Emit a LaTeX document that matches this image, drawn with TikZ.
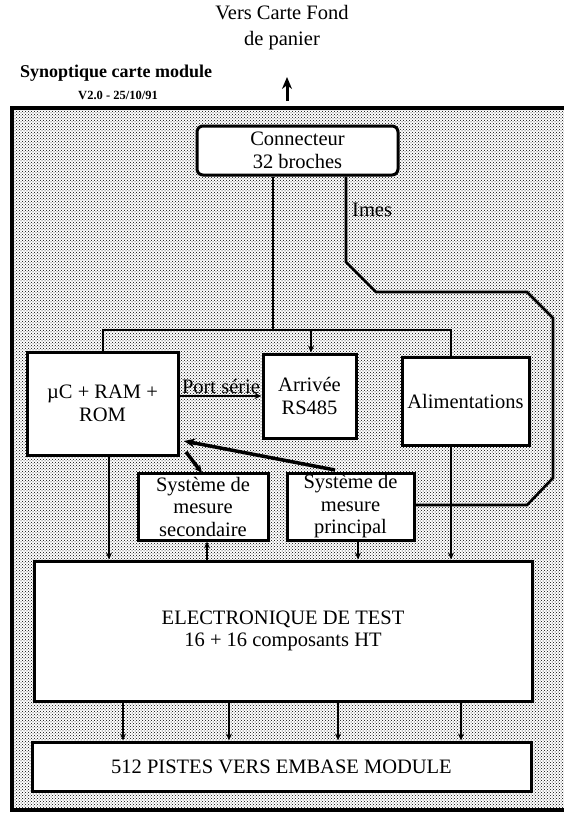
\documentclass[tikz,border=0pt]{standalone}
\usepackage{fontspec}
\setmainfont{Liberation Serif}
\usetikzlibrary{patterns,arrows.meta}
\begin{document}
\begin{tikzpicture}[x=1pt,y=-1pt,
  box/.style={draw,fill=white,line width=3pt,inner sep=0pt,align=center,font=\fontsize{20.5}{22.5}\selectfont},
  conline/.style={line width=2.6pt},
  arr/.style={conline,-{Stealth[length=7pt,width=6pt]}},
  lbl/.style={inner sep=0pt,font=\fontsize{20.5}{22.5}\selectfont}]
\useasboundingbox (0,0) rectangle (564,815);
\fill[white] (0,0) rectangle (564,815);
% background frame
\fill[pattern=crosshatch dots, pattern color=black] (12,108) rectangle (566,810);
\draw[line width=4.5pt] (566,108) -- (12,108) -- (12,810) -- (566,810);

% titles
\node[lbl,align=center,font=\fontsize{20.5}{26}\selectfont] (vers) at (282,28) {Vers Carte Fond\\de panier};
\node[inner sep=0pt,anchor=west,font=\bfseries\fontsize{18}{20}\selectfont] (syn) at (20,73) {Synoptique carte module};
\node[inner sep=0pt,font=\bfseries\fontsize{12.5}{14}\selectfont] (ver) at (118,95) {V2.0 - 25/10/91};
\coordinate (t1) at (287,101);
\coordinate (t2) at (287,77);
\draw[line width=3pt,-{Stealth[length=12pt,width=10pt]}] (t1) -- (t2);

% boxes
\node[box,rounded corners=6pt,minimum width=201pt,minimum height=49pt] (conn) at (297.5,150.5) {Connecteur\\32 broches};
\node[box,minimum width=151pt,minimum height=103pt] (uc) at (102.5,403.5) {µC + RAM +\\ROM};
\node[box,minimum width=93pt,minimum height=84pt] (rs) at (309.5,396) {Arrivée\\RS485};
\node[box,minimum width=127pt,minimum height=88pt] (alim) at (465.5,401) {Alimentations};
\node[box,minimum width=130pt,minimum height=67pt] (sec) at (203,506.5) {Système de\\mesure\\secondaire};
\node[box,minimum width=127pt,minimum height=67pt] (prin) at (350.5,506.5) {Système de\\mesure\\principal};
\node[box,minimum width=498pt,minimum height=140pt] (elec) at (283,631) {ELECTRONIQUE DE TEST\\16 + 16 composants HT};
\node[box,minimum width=499pt,minimum height=49pt] (pistes) at (281.5,766.5) {512 PISTES VERS EMBASE MODULE};

% bus
\coordinate (busL) at (103,330);
\coordinate (busC) at (273,330);
\coordinate (busA) at (311,330);
\coordinate (busR) at (451,330);
\draw[conline] (conn.south -| busC) -- (busC);
\draw[conline] (uc.north -| busL) -- (busL) -- (busR) -- (alim.north -| busR);
\draw[arr] (busA) -- (rs.north -| busA);

% Imes
\coordinate (i1) at (346,262);
\coordinate (i2) at (376,292);
\coordinate (i3) at (527,292);
\coordinate (i4) at (553,318);
\coordinate (i5) at (553,478);
\coordinate (i6) at (527,505);
\draw[conline] (conn.south -| i1) -- (i1) -- (i2) -- (i3) -- (i4) -- (i5) -- (i6) -- (prin.east |- i6);
\node[lbl,anchor=west] (imes) at (352,210) {Imes};

% port serie
\coordinate (ps) at (0,396);
\draw[arr] (uc.east |- ps) -- (rs.west |- ps);
\node[lbl,anchor=south] (pslbl) at (221,394) {Port série};

% diagonal arrows
\coordinate (a1) at (335,470);
\coordinate (a2) at (184,441);
\draw[line width=3.5pt,-{Stealth[length=11pt,width=9pt]}] (a1) -- (a2);
\coordinate (b1) at (186,452);
\coordinate (b2) at (202,473);
\draw[line width=3.5pt,-{Stealth[length=8pt,width=7pt]}] (b1) -- (b2);

% down to electronique
\coordinate (d1) at (109,0);
\coordinate (d2) at (207,0);
\coordinate (d3) at (358,0);
\draw[arr] (uc.south -| d1) -- (elec.north -| d1);
\draw[arr] (alim.south -| busR) -- (elec.north -| busR);
\draw[arr] (elec.north -| d2) -- (sec.south -| d2);
\draw[arr] (prin.south -| d3) -- (elec.north -| d3);

% to pistes
\foreach \x [count=\k] in {123,229,338,461} {
  \coordinate (p\k) at (\x,0);
  \draw[arr] (elec.south -| p\k) -- (pistes.north -| p\k);
}
\end{tikzpicture}
\end{document}
